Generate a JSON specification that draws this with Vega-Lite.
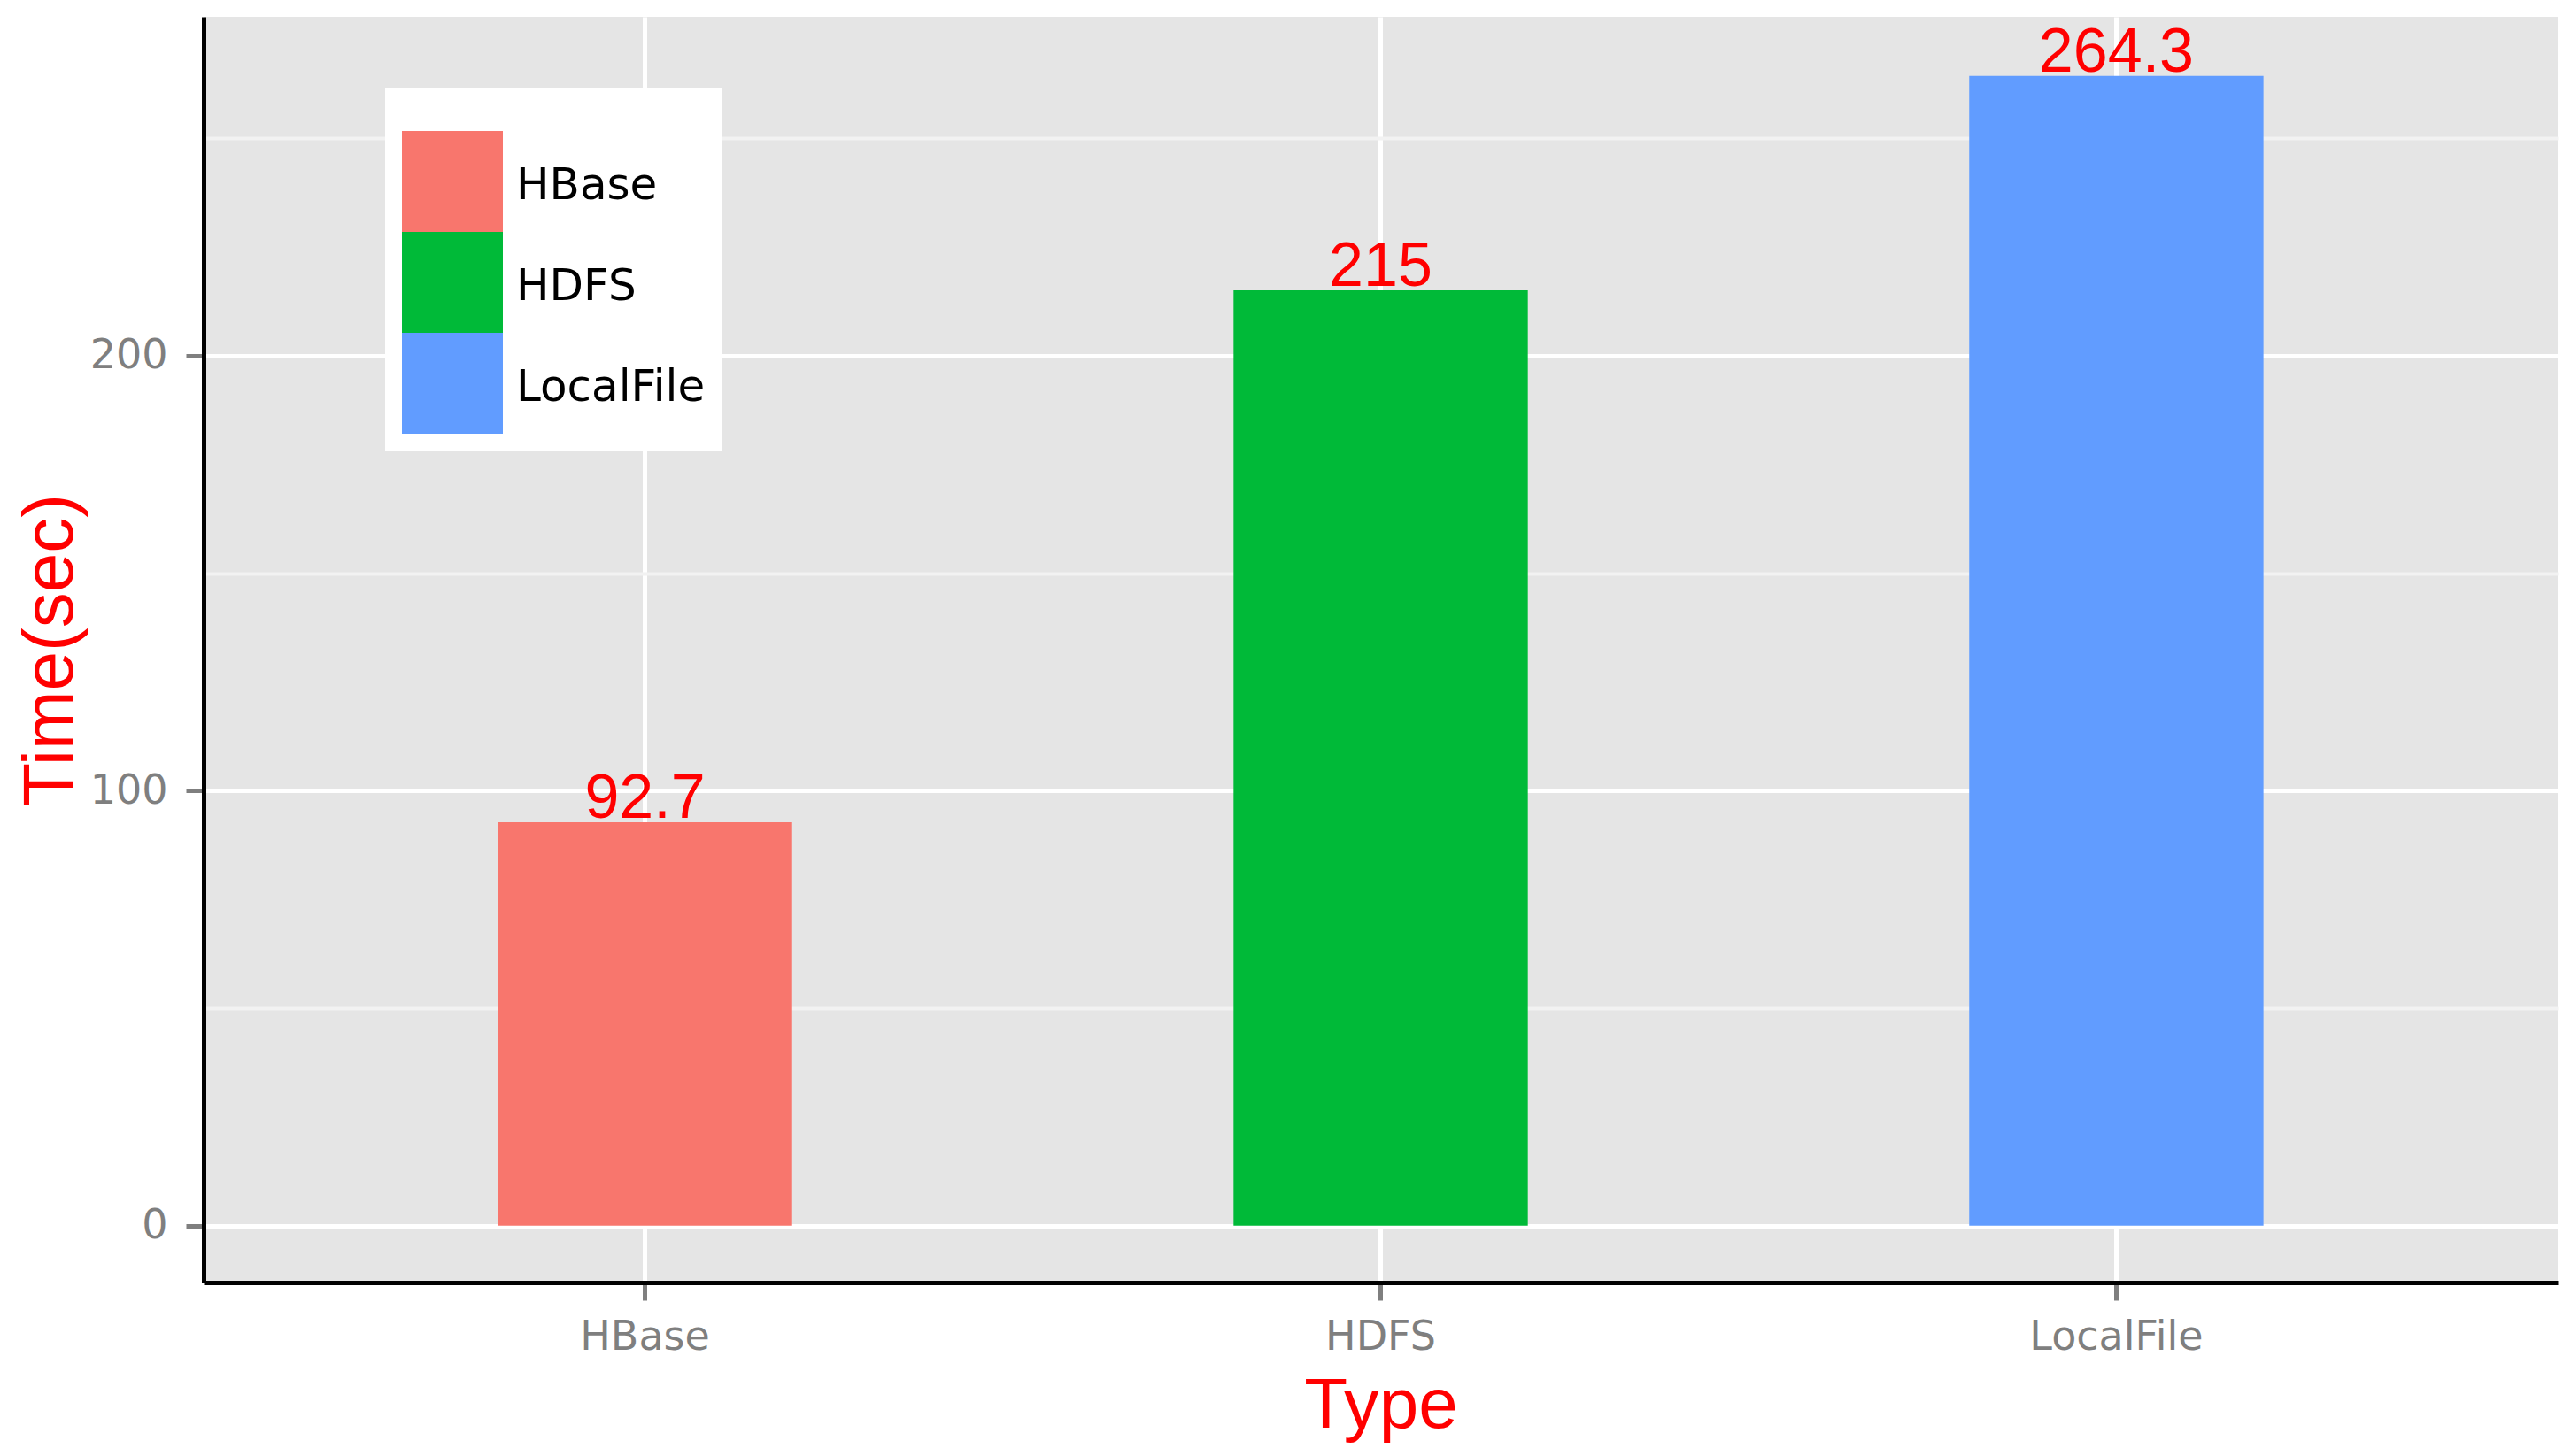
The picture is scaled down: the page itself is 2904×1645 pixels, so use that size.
{
  "$schema": "https://vega.github.io/schema/vega-lite/v6.json",
  "autosize": {"type": "none"},
  "width": 2659,
  "height": 1430,
  "padding": {"left": 230, "top": 19, "right": 15, "bottom": 196},
  "background": "white",
  "config": {
    "view": {"fill": "#E5E5E5", "stroke": null},
    "font": "Liberation Sans",
    "axis": {"labelFont": "DejaVu Sans", "titleFont": "Liberation Sans"},
    "legend": {"labelFont": "DejaVu Sans", "titleFont": "Liberation Sans"}
  },
  "data": {
    "values": [
      {"Type": "HBase", "Time": 92.7},
      {"Type": "HDFS", "Time": 215},
      {"Type": "LocalFile", "Time": 264.3}
    ]
  },
  "encoding": {
    "x": {
      "field": "Type",
      "type": "nominal",
      "sort": ["HBase", "HDFS", "LocalFile"],
      "scale": {"paddingInner": 0.6, "paddingOuter": 0.4},
      "axis": {
        "title": "Type",
        "titleColor": "#FF0000",
        "titleFontSize": 80,
        "titleFontWeight": "normal",
        "titlePadding": 16,
        "labelAngle": 0,
        "labelFontSize": 46,
        "labelColor": "#7F7F7F",
        "labelPadding": 19,
        "labelLimit": 600,
        "tickSize": 20,
        "tickWidth": 5,
        "tickColor": "#7F7F7F",
        "domainColor": "#000000",
        "domainWidth": 5,
        "grid": true,
        "gridColor": "#FFFFFF",
        "gridWidth": 5
      }
    },
    "y": {
      "field": "Time",
      "type": "quantitative",
      "scale": {"domain": [-13.1, 277.9], "nice": false, "zero": false},
      "axis": {
        "title": "Time(sec)",
        "titleColor": "#FF0000",
        "titleFontSize": 80,
        "titleFontWeight": "normal",
        "titlePadding": 3,
        "values": [0, 50, 100, 150, 200, 250],
        "labelExpr": "datum.value % 100 === 0 ? datum.label : ''",
        "labelFontSize": 46,
        "labelColor": "#7F7F7F",
        "labelPadding": 21,
        "tickSize": 20,
        "tickWidth": 5,
        "tickColor": "#7F7F7F",
        "tickOpacity": {"condition": {"test": "datum.value % 100 === 0", "value": 1}, "value": 0},
        "domainColor": "#000000",
        "domainWidth": 5,
        "grid": true,
        "gridColor": {"condition": {"test": "datum.value % 100 === 0", "value": "#FFFFFF"}, "value": "#F2F2F2"},
        "gridWidth": {"condition": {"test": "datum.value % 100 === 0", "value": 5}, "value": 4}
      }
    }
  },
  "layer": [
    {
      "mark": {"type": "bar"},
      "encoding": {
        "color": {
          "field": "Type",
          "type": "nominal",
          "scale": {"domain": ["HBase", "HDFS", "LocalFile"], "range": ["#F8766D", "#00BA38", "#619CFF"]},
          "legend": {
            "title": " ",
            "titleFontSize": 22,
            "titlePadding": 8,
            "orient": "none",
            "legendX": 205,
            "legendY": 80,
            "padding": 19,
            "fillColor": "#FFFFFF",
            "symbolType": "square",
            "symbolSize": 12996,
            "symbolStrokeWidth": 0,
            "symbolOpacity": 1,
            "rowPadding": 0,
            "labelFontSize": 50,
            "labelColor": "#000000",
            "labelOffset": 15,
            "labelLimit": 500,
            "labelBaseline": "middle",
            "encode": {"labels": {"update": {"dy": {"value": 5}}}}
          }
        }
      }
    },
    {
      "mark": {"type": "text", "color": "#FF0000", "fontSize": 70, "baseline": "alphabetic", "dy": -5},
      "encoding": {
        "text": {"field": "Time", "type": "quantitative"}
      }
    }
  ]
}
